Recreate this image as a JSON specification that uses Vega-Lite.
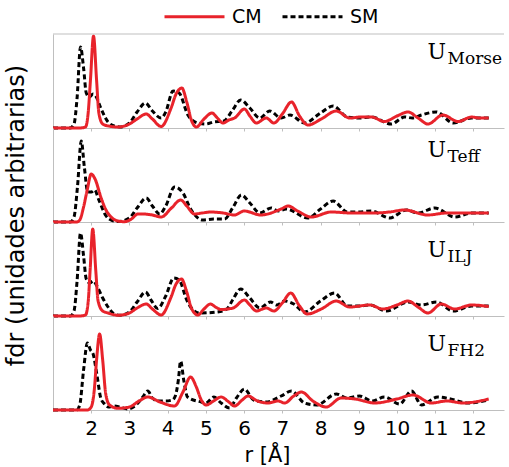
{
"$schema": "https://vega.github.io/schema/vega-lite/v6.json",
"padding": {"left": 3, "top": 5, "right": 0, "bottom": 0},
"spacing": 0,
"bounds": "flush",
"config": {
  "view": {"stroke": null},
  "font": "DejaVu Sans",
  "axis": {"grid": false, "domainColor": "#bfbfbf", "tickColor": "#bfbfbf", "labelFont": "DejaVu Sans", "labelFontSize": 20, "labelColor": "black", "titleFont": "DejaVu Sans", "titleFontSize": 24, "titleFontWeight": "normal", "titleColor": "black"},
  "legend": {"orient": "none", "legendX": 130, "legendY": -29, "direction": "horizontal", "symbolType": "M-3,0H3", "symbolSize": 400, "symbolStrokeWidth": 3, "labelFont": "DejaVu Sans", "labelFontSize": 19, "labelColor": "black", "columnPadding": 14, "labelOffset": 26, "padding": 0}
},
"datasets": {
  "labels": [
    {"panel": "Morse", "main": "U", "sub": "Morse"},
    {"panel": "Teff", "main": "U", "sub": "Teff"},
    {"panel": "ILJ", "main": "U", "sub": "ILJ"},
    {"panel": "FH2", "main": "U", "sub": "FH2"}
  ],
  "rdf": [
    {"panel":"Morse","series":"CM","r":1.0,"g":0},{"panel":"Morse","series":"CM","r":1.7,"g":0},{"panel":"Morse","series":"CM","r":1.85,"g":0.1},{"panel":"Morse","series":"CM","r":1.92,"g":1.5},{"panel":"Morse","series":"CM","r":1.98,"g":4.8},{"panel":"Morse","series":"CM","r":2.06,"g":9.2},{"panel":"Morse","series":"CM","r":2.14,"g":4.8},{"panel":"Morse","series":"CM","r":2.2,"g":1.5},{"panel":"Morse","series":"CM","r":2.3,"g":0.4},{"panel":"Morse","series":"CM","r":2.45,"g":0.2},{"panel":"Morse","series":"CM","r":2.7,"g":0.1},{"panel":"Morse","series":"CM","r":3.0,"g":0.4},{"panel":"Morse","series":"CM","r":3.2,"g":0.9},{"panel":"Morse","series":"CM","r":3.44,"g":1.4},{"panel":"Morse","series":"CM","r":3.6,"g":0.9},{"panel":"Morse","series":"CM","r":3.83,"g":0.15},{"panel":"Morse","series":"CM","r":4.09,"g":2.0},{"panel":"Morse","series":"CM","r":4.22,"g":3.4},{"panel":"Morse","series":"CM","r":4.37,"g":4.0},{"panel":"Morse","series":"CM","r":4.5,"g":2.6},{"panel":"Morse","series":"CM","r":4.62,"g":0.8},{"panel":"Morse","series":"CM","r":4.75,"g":0.1},{"panel":"Morse","series":"CM","r":4.95,"g":0.9},{"panel":"Morse","series":"CM","r":5.16,"g":1.5},{"panel":"Morse","series":"CM","r":5.3,"g":1.0},{"panel":"Morse","series":"CM","r":5.45,"g":0.5},{"panel":"Morse","series":"CM","r":5.6,"g":0.8},{"panel":"Morse","series":"CM","r":5.75,"g":1.0},{"panel":"Morse","series":"CM","r":6.01,"g":1.9},{"panel":"Morse","series":"CM","r":6.15,"g":1.2},{"panel":"Morse","series":"CM","r":6.32,"g":0.5},{"panel":"Morse","series":"CM","r":6.58,"g":1.0},{"panel":"Morse","series":"CM","r":6.78,"g":0.5},{"panel":"Morse","series":"CM","r":7.0,"g":1.4},{"panel":"Morse","series":"CM","r":7.24,"g":2.6},{"panel":"Morse","series":"CM","r":7.45,"g":1.2},{"panel":"Morse","series":"CM","r":7.67,"g":0.3},{"panel":"Morse","series":"CM","r":8.02,"g":0.9},{"panel":"Morse","series":"CM","r":8.41,"g":1.7},{"panel":"Morse","series":"CM","r":8.76,"g":1.0},{"panel":"Morse","series":"CM","r":9.05,"g":1.1},{"panel":"Morse","series":"CM","r":9.33,"g":1.1},{"panel":"Morse","series":"CM","r":9.67,"g":0.65},{"panel":"Morse","series":"CM","r":10.0,"g":1.2},{"panel":"Morse","series":"CM","r":10.29,"g":1.6},{"panel":"Morse","series":"CM","r":10.55,"g":1.0},{"panel":"Morse","series":"CM","r":10.81,"g":0.4},{"panel":"Morse","series":"CM","r":11.2,"g":1.3},{"panel":"Morse","series":"CM","r":11.6,"g":0.65},{"panel":"Morse","series":"CM","r":11.95,"g":1.1},{"panel":"Morse","series":"CM","r":12.15,"g":1.0},{"panel":"Morse","series":"CM","r":12.4,"g":1.0},
    {"panel":"Morse","series":"SM","r":1.0,"g":0},{"panel":"Morse","series":"SM","r":1.45,"g":0},{"panel":"Morse","series":"SM","r":1.55,"g":0.4},{"panel":"Morse","series":"SM","r":1.63,"g":3.0},{"panel":"Morse","series":"SM","r":1.72,"g":8.1},{"panel":"Morse","series":"SM","r":1.8,"g":6.0},{"panel":"Morse","series":"SM","r":1.87,"g":3.5},{"panel":"Morse","series":"SM","r":1.95,"g":3.1},{"panel":"Morse","series":"SM","r":2.05,"g":3.4},{"panel":"Morse","series":"SM","r":2.12,"g":3.2},{"panel":"Morse","series":"SM","r":2.25,"g":2.0},{"panel":"Morse","series":"SM","r":2.44,"g":0.6},{"panel":"Morse","series":"SM","r":2.6,"g":0.2},{"panel":"Morse","series":"SM","r":2.75,"g":0.1},{"panel":"Morse","series":"SM","r":3.0,"g":0.5},{"panel":"Morse","series":"SM","r":3.2,"g":1.6},{"panel":"Morse","series":"SM","r":3.42,"g":2.5},{"panel":"Morse","series":"SM","r":3.6,"g":1.7},{"panel":"Morse","series":"SM","r":3.83,"g":1.0},{"panel":"Morse","series":"SM","r":3.95,"g":1.6},{"panel":"Morse","series":"SM","r":4.14,"g":3.7},{"panel":"Morse","series":"SM","r":4.3,"g":3.5},{"panel":"Morse","series":"SM","r":4.53,"g":1.3},{"panel":"Morse","series":"SM","r":4.79,"g":0.5},{"panel":"Morse","series":"SM","r":5.0,"g":0.4},{"panel":"Morse","series":"SM","r":5.2,"g":0.6},{"panel":"Morse","series":"SM","r":5.47,"g":0.7},{"panel":"Morse","series":"SM","r":5.7,"g":1.8},{"panel":"Morse","series":"SM","r":5.91,"g":2.8},{"panel":"Morse","series":"SM","r":6.15,"g":2.0},{"panel":"Morse","series":"SM","r":6.41,"g":1.0},{"panel":"Morse","series":"SM","r":6.67,"g":1.7},{"panel":"Morse","series":"SM","r":6.97,"g":1.0},{"panel":"Morse","series":"SM","r":7.2,"g":1.3},{"panel":"Morse","series":"SM","r":7.58,"g":0.5},{"panel":"Morse","series":"SM","r":8.0,"g":1.5},{"panel":"Morse","series":"SM","r":8.33,"g":2.2},{"panel":"Morse","series":"SM","r":8.7,"g":1.1},{"panel":"Morse","series":"SM","r":9.0,"g":1.0},{"panel":"Morse","series":"SM","r":9.33,"g":1.1},{"panel":"Morse","series":"SM","r":9.85,"g":0.4},{"panel":"Morse","series":"SM","r":10.2,"g":1.1},{"panel":"Morse","series":"SM","r":10.4,"g":1.0},{"panel":"Morse","series":"SM","r":10.64,"g":1.3},{"panel":"Morse","series":"SM","r":11.03,"g":1.6},{"panel":"Morse","series":"SM","r":11.47,"g":0.5},{"panel":"Morse","series":"SM","r":11.95,"g":1.0},{"panel":"Morse","series":"SM","r":12.4,"g":1.0},
    {"panel":"Teff","series":"CM","r":1.0,"g":0},{"panel":"Teff","series":"CM","r":1.62,"g":0},{"panel":"Teff","series":"CM","r":1.7,"g":0.2},{"panel":"Teff","series":"CM","r":1.8,"g":1.5},{"panel":"Teff","series":"CM","r":1.9,"g":3.3},{"panel":"Teff","series":"CM","r":2.0,"g":4.8},{"panel":"Teff","series":"CM","r":2.1,"g":4.3},{"panel":"Teff","series":"CM","r":2.26,"g":2.4},{"panel":"Teff","series":"CM","r":2.4,"g":1.1},{"panel":"Teff","series":"CM","r":2.52,"g":0.5},{"panel":"Teff","series":"CM","r":2.7,"g":0.1},{"panel":"Teff","series":"CM","r":2.87,"g":0.03},{"panel":"Teff","series":"CM","r":3.05,"g":0.3},{"panel":"Teff","series":"CM","r":3.22,"g":0.8},{"panel":"Teff","series":"CM","r":3.35,"g":0.8},{"panel":"Teff","series":"CM","r":3.6,"g":0.7},{"panel":"Teff","series":"CM","r":3.83,"g":0.5},{"panel":"Teff","series":"CM","r":4.1,"g":1.4},{"panel":"Teff","series":"CM","r":4.34,"g":2.2},{"panel":"Teff","series":"CM","r":4.5,"g":1.6},{"panel":"Teff","series":"CM","r":4.7,"g":0.8},{"panel":"Teff","series":"CM","r":4.9,"g":0.9},{"panel":"Teff","series":"CM","r":5.13,"g":1.0},{"panel":"Teff","series":"CM","r":5.45,"g":0.9},{"panel":"Teff","series":"CM","r":5.75,"g":0.7},{"panel":"Teff","series":"CM","r":6.0,"g":1.1},{"panel":"Teff","series":"CM","r":6.44,"g":0.7},{"panel":"Teff","series":"CM","r":6.97,"g":1.3},{"panel":"Teff","series":"CM","r":7.15,"g":1.6},{"panel":"Teff","series":"CM","r":7.4,"g":1.1},{"panel":"Teff","series":"CM","r":7.76,"g":0.5},{"panel":"Teff","series":"CM","r":8.28,"g":1.0},{"panel":"Teff","series":"CM","r":8.8,"g":0.9},{"panel":"Teff","series":"CM","r":9.4,"g":0.9},{"panel":"Teff","series":"CM","r":9.8,"g":1.0},{"panel":"Teff","series":"CM","r":10.2,"g":1.2},{"panel":"Teff","series":"CM","r":10.8,"g":0.7},{"panel":"Teff","series":"CM","r":11.3,"g":0.9},{"panel":"Teff","series":"CM","r":12.4,"g":0.9},
    {"panel":"Teff","series":"SM","r":1.0,"g":0},{"panel":"Teff","series":"SM","r":1.45,"g":0},{"panel":"Teff","series":"SM","r":1.55,"g":0.5},{"panel":"Teff","series":"SM","r":1.64,"g":3.5},{"panel":"Teff","series":"SM","r":1.74,"g":8.1},{"panel":"Teff","series":"SM","r":1.82,"g":5.5},{"panel":"Teff","series":"SM","r":1.91,"g":3.0},{"panel":"Teff","series":"SM","r":2.0,"g":3.0},{"panel":"Teff","series":"SM","r":2.09,"g":3.2},{"panel":"Teff","series":"SM","r":2.2,"g":2.2},{"panel":"Teff","series":"SM","r":2.39,"g":0.6},{"panel":"Teff","series":"SM","r":2.55,"g":0.15},{"panel":"Teff","series":"SM","r":2.7,"g":0.05},{"panel":"Teff","series":"SM","r":3.0,"g":0.4},{"panel":"Teff","series":"SM","r":3.2,"g":1.4},{"panel":"Teff","series":"SM","r":3.44,"g":2.4},{"panel":"Teff","series":"SM","r":3.6,"g":1.6},{"panel":"Teff","series":"SM","r":3.79,"g":0.8},{"panel":"Teff","series":"SM","r":3.95,"g":1.6},{"panel":"Teff","series":"SM","r":4.18,"g":3.5},{"panel":"Teff","series":"SM","r":4.4,"g":2.9},{"panel":"Teff","series":"SM","r":4.6,"g":1.3},{"panel":"Teff","series":"SM","r":4.92,"g":0.2},{"panel":"Teff","series":"SM","r":5.2,"g":0.3},{"panel":"Teff","series":"SM","r":5.49,"g":0.3},{"panel":"Teff","series":"SM","r":5.7,"g":1.4},{"panel":"Teff","series":"SM","r":5.93,"g":2.7},{"panel":"Teff","series":"SM","r":6.15,"g":1.9},{"panel":"Teff","series":"SM","r":6.41,"g":0.9},{"panel":"Teff","series":"SM","r":6.71,"g":1.4},{"panel":"Teff","series":"SM","r":6.89,"g":1.1},{"panel":"Teff","series":"SM","r":7.1,"g":1.3},{"panel":"Teff","series":"SM","r":7.67,"g":0.4},{"panel":"Teff","series":"SM","r":8.0,"g":1.3},{"panel":"Teff","series":"SM","r":8.33,"g":2.1},{"panel":"Teff","series":"SM","r":8.7,"g":1.0},{"panel":"Teff","series":"SM","r":9.0,"g":1.0},{"panel":"Teff","series":"SM","r":9.33,"g":1.1},{"panel":"Teff","series":"SM","r":9.81,"g":0.4},{"panel":"Teff","series":"SM","r":10.25,"g":1.2},{"panel":"Teff","series":"SM","r":10.55,"g":0.9},{"panel":"Teff","series":"SM","r":10.99,"g":1.4},{"panel":"Teff","series":"SM","r":11.51,"g":0.5},{"panel":"Teff","series":"SM","r":11.95,"g":0.9},{"panel":"Teff","series":"SM","r":12.4,"g":0.9},
    {"panel":"ILJ","series":"CM","r":1.0,"g":0},{"panel":"ILJ","series":"CM","r":1.7,"g":0},{"panel":"ILJ","series":"CM","r":1.85,"g":0.1},{"panel":"ILJ","series":"CM","r":1.92,"g":1.4},{"panel":"ILJ","series":"CM","r":1.97,"g":4.5},{"panel":"ILJ","series":"CM","r":2.04,"g":8.7},{"panel":"ILJ","series":"CM","r":2.12,"g":4.5},{"panel":"ILJ","series":"CM","r":2.18,"g":1.5},{"panel":"ILJ","series":"CM","r":2.3,"g":0.5},{"panel":"ILJ","series":"CM","r":2.44,"g":0.3},{"panel":"ILJ","series":"CM","r":2.7,"g":0.07},{"panel":"ILJ","series":"CM","r":3.0,"g":0.3},{"panel":"ILJ","series":"CM","r":3.2,"g":0.8},{"panel":"ILJ","series":"CM","r":3.44,"g":1.2},{"panel":"ILJ","series":"CM","r":3.6,"g":0.7},{"panel":"ILJ","series":"CM","r":3.83,"g":0.1},{"panel":"ILJ","series":"CM","r":4.08,"g":1.8},{"panel":"ILJ","series":"CM","r":4.22,"g":3.2},{"panel":"ILJ","series":"CM","r":4.36,"g":3.7},{"panel":"ILJ","series":"CM","r":4.5,"g":2.4},{"panel":"ILJ","series":"CM","r":4.62,"g":0.8},{"panel":"ILJ","series":"CM","r":4.79,"g":0.1},{"panel":"ILJ","series":"CM","r":4.95,"g":0.7},{"panel":"ILJ","series":"CM","r":5.12,"g":1.2},{"panel":"ILJ","series":"CM","r":5.25,"g":0.9},{"panel":"ILJ","series":"CM","r":5.4,"g":0.65},{"panel":"ILJ","series":"CM","r":5.71,"g":0.8},{"panel":"ILJ","series":"CM","r":6.01,"g":1.6},{"panel":"ILJ","series":"CM","r":6.15,"g":1.1},{"panel":"ILJ","series":"CM","r":6.32,"g":0.5},{"panel":"ILJ","series":"CM","r":6.58,"g":0.8},{"panel":"ILJ","series":"CM","r":6.78,"g":0.5},{"panel":"ILJ","series":"CM","r":7.0,"g":1.3},{"panel":"ILJ","series":"CM","r":7.22,"g":2.3},{"panel":"ILJ","series":"CM","r":7.45,"g":1.0},{"panel":"ILJ","series":"CM","r":7.65,"g":0.2},{"panel":"ILJ","series":"CM","r":8.02,"g":0.7},{"panel":"ILJ","series":"CM","r":8.41,"g":1.5},{"panel":"ILJ","series":"CM","r":8.76,"g":0.9},{"panel":"ILJ","series":"CM","r":9.29,"g":1.1},{"panel":"ILJ","series":"CM","r":9.63,"g":0.7},{"panel":"ILJ","series":"CM","r":10.0,"g":1.1},{"panel":"ILJ","series":"CM","r":10.29,"g":1.5},{"panel":"ILJ","series":"CM","r":10.55,"g":0.9},{"panel":"ILJ","series":"CM","r":10.81,"g":0.3},{"panel":"ILJ","series":"CM","r":11.16,"g":1.2},{"panel":"ILJ","series":"CM","r":11.51,"g":0.7},{"panel":"ILJ","series":"CM","r":11.95,"g":1.1},{"panel":"ILJ","series":"CM","r":12.4,"g":0.95},
    {"panel":"ILJ","series":"SM","r":1.0,"g":0},{"panel":"ILJ","series":"SM","r":1.45,"g":0},{"panel":"ILJ","series":"SM","r":1.55,"g":0.5},{"panel":"ILJ","series":"SM","r":1.63,"g":3.5},{"panel":"ILJ","series":"SM","r":1.72,"g":8.3},{"panel":"ILJ","series":"SM","r":1.8,"g":6.0},{"panel":"ILJ","series":"SM","r":1.87,"g":3.7},{"panel":"ILJ","series":"SM","r":1.96,"g":3.3},{"panel":"ILJ","series":"SM","r":2.05,"g":3.5},{"panel":"ILJ","series":"SM","r":2.15,"g":3.0},{"panel":"ILJ","series":"SM","r":2.3,"g":1.8},{"panel":"ILJ","series":"SM","r":2.44,"g":0.9},{"panel":"ILJ","series":"SM","r":2.6,"g":0.2},{"panel":"ILJ","series":"SM","r":2.75,"g":0.07},{"panel":"ILJ","series":"SM","r":3.0,"g":0.4},{"panel":"ILJ","series":"SM","r":3.2,"g":1.4},{"panel":"ILJ","series":"SM","r":3.42,"g":2.4},{"panel":"ILJ","series":"SM","r":3.58,"g":1.5},{"panel":"ILJ","series":"SM","r":3.74,"g":0.75},{"panel":"ILJ","series":"SM","r":3.95,"g":2.0},{"panel":"ILJ","series":"SM","r":4.16,"g":3.8},{"panel":"ILJ","series":"SM","r":4.3,"g":3.6},{"panel":"ILJ","series":"SM","r":4.5,"g":1.6},{"panel":"ILJ","series":"SM","r":4.6,"g":0.9},{"panel":"ILJ","series":"SM","r":4.83,"g":0.3},{"panel":"ILJ","series":"SM","r":5.29,"g":0.4},{"panel":"ILJ","series":"SM","r":5.55,"g":0.7},{"panel":"ILJ","series":"SM","r":5.7,"g":1.6},{"panel":"ILJ","series":"SM","r":5.91,"g":2.7},{"panel":"ILJ","series":"SM","r":6.15,"g":1.8},{"panel":"ILJ","series":"SM","r":6.41,"g":0.8},{"panel":"ILJ","series":"SM","r":6.69,"g":1.4},{"panel":"ILJ","series":"SM","r":6.85,"g":1.1},{"panel":"ILJ","series":"SM","r":7.06,"g":1.5},{"panel":"ILJ","series":"SM","r":7.3,"g":1.2},{"panel":"ILJ","series":"SM","r":7.58,"g":0.4},{"panel":"ILJ","series":"SM","r":8.0,"g":1.5},{"panel":"ILJ","series":"SM","r":8.37,"g":2.3},{"panel":"ILJ","series":"SM","r":8.7,"g":1.0},{"panel":"ILJ","series":"SM","r":9.0,"g":1.0},{"panel":"ILJ","series":"SM","r":9.29,"g":1.1},{"panel":"ILJ","series":"SM","r":9.72,"g":0.5},{"panel":"ILJ","series":"SM","r":10.29,"g":1.4},{"panel":"ILJ","series":"SM","r":10.64,"g":1.1},{"panel":"ILJ","series":"SM","r":11.03,"g":1.4},{"panel":"ILJ","series":"SM","r":11.47,"g":0.5},{"panel":"ILJ","series":"SM","r":11.95,"g":1.0},{"panel":"ILJ","series":"SM","r":12.4,"g":1.0},
    {"panel":"FH2","series":"CM","r":1.0,"g":0},{"panel":"FH2","series":"CM","r":1.9,"g":0},{"panel":"FH2","series":"CM","r":2.0,"g":0.3},{"panel":"FH2","series":"CM","r":2.08,"g":2.0},{"panel":"FH2","series":"CM","r":2.14,"g":5.0},{"panel":"FH2","series":"CM","r":2.22,"g":7.6},{"panel":"FH2","series":"CM","r":2.3,"g":5.0},{"panel":"FH2","series":"CM","r":2.38,"g":1.6},{"panel":"FH2","series":"CM","r":2.48,"g":0.5},{"panel":"FH2","series":"CM","r":2.7,"g":0.17},{"panel":"FH2","series":"CM","r":3.0,"g":0.3},{"panel":"FH2","series":"CM","r":3.25,"g":0.9},{"panel":"FH2","series":"CM","r":3.48,"g":1.3},{"panel":"FH2","series":"CM","r":3.8,"g":0.8},{"panel":"FH2","series":"CM","r":4.18,"g":0.4},{"panel":"FH2","series":"CM","r":4.4,"g":1.8},{"panel":"FH2","series":"CM","r":4.6,"g":3.3},{"panel":"FH2","series":"CM","r":4.75,"g":2.3},{"panel":"FH2","series":"CM","r":4.88,"g":1.0},{"panel":"FH2","series":"CM","r":5.01,"g":0.5},{"panel":"FH2","series":"CM","r":5.2,"g":0.9},{"panel":"FH2","series":"CM","r":5.4,"g":1.3},{"panel":"FH2","series":"CM","r":5.6,"g":0.8},{"panel":"FH2","series":"CM","r":5.75,"g":0.4},{"panel":"FH2","series":"CM","r":5.95,"g":1.0},{"panel":"FH2","series":"CM","r":6.1,"g":1.4},{"panel":"FH2","series":"CM","r":6.35,"g":0.9},{"panel":"FH2","series":"CM","r":6.62,"g":0.7},{"panel":"FH2","series":"CM","r":6.89,"g":0.9},{"panel":"FH2","series":"CM","r":7.06,"g":0.7},{"panel":"FH2","series":"CM","r":7.3,"g":1.4},{"panel":"FH2","series":"CM","r":7.5,"g":1.8},{"panel":"FH2","series":"CM","r":7.8,"g":0.9},{"panel":"FH2","series":"CM","r":8.15,"g":0.3},{"panel":"FH2","series":"CM","r":8.54,"g":1.2},{"panel":"FH2","series":"CM","r":8.9,"g":1.1},{"panel":"FH2","series":"CM","r":9.42,"g":0.7},{"panel":"FH2","series":"CM","r":10.0,"g":1.1},{"panel":"FH2","series":"CM","r":10.42,"g":1.5},{"panel":"FH2","series":"CM","r":10.9,"g":0.7},{"panel":"FH2","series":"CM","r":11.3,"g":0.9},{"panel":"FH2","series":"CM","r":11.73,"g":0.7},{"panel":"FH2","series":"CM","r":12.4,"g":1.1},
    {"panel":"FH2","series":"SM","r":1.0,"g":0},{"panel":"FH2","series":"SM","r":1.62,"g":0},{"panel":"FH2","series":"SM","r":1.7,"g":0.5},{"panel":"FH2","series":"SM","r":1.8,"g":4.0},{"panel":"FH2","series":"SM","r":1.9,"g":6.7},{"panel":"FH2","series":"SM","r":1.98,"g":6.0},{"panel":"FH2","series":"SM","r":2.05,"g":5.6},{"panel":"FH2","series":"SM","r":2.15,"g":3.5},{"panel":"FH2","series":"SM","r":2.25,"g":1.2},{"panel":"FH2","series":"SM","r":2.35,"g":0.6},{"panel":"FH2","series":"SM","r":2.45,"g":0.3},{"panel":"FH2","series":"SM","r":2.6,"g":0.4},{"panel":"FH2","series":"SM","r":2.75,"g":0.3},{"panel":"FH2","series":"SM","r":2.95,"g":0.1},{"panel":"FH2","series":"SM","r":3.2,"g":0.6},{"panel":"FH2","series":"SM","r":3.35,"g":1.3},{"panel":"FH2","series":"SM","r":3.48,"g":1.9},{"panel":"FH2","series":"SM","r":3.6,"g":1.2},{"panel":"FH2","series":"SM","r":3.75,"g":0.9},{"panel":"FH2","series":"SM","r":3.95,"g":0.9},{"panel":"FH2","series":"SM","r":4.12,"g":1.0},{"panel":"FH2","series":"SM","r":4.2,"g":1.4},{"panel":"FH2","series":"SM","r":4.28,"g":3.0},{"panel":"FH2","series":"SM","r":4.34,"g":4.9},{"panel":"FH2","series":"SM","r":4.42,"g":3.0},{"panel":"FH2","series":"SM","r":4.52,"g":1.3},{"panel":"FH2","series":"SM","r":4.88,"g":0.8},{"panel":"FH2","series":"SM","r":5.0,"g":0.7},{"panel":"FH2","series":"SM","r":5.21,"g":1.3},{"panel":"FH2","series":"SM","r":5.4,"g":0.7},{"panel":"FH2","series":"SM","r":5.62,"g":0.2},{"panel":"FH2","series":"SM","r":5.8,"g":1.2},{"panel":"FH2","series":"SM","r":6.01,"g":2.1},{"panel":"FH2","series":"SM","r":6.25,"g":1.0},{"panel":"FH2","series":"SM","r":6.58,"g":0.8},{"panel":"FH2","series":"SM","r":6.97,"g":1.4},{"panel":"FH2","series":"SM","r":7.24,"g":1.9},{"panel":"FH2","series":"SM","r":7.58,"g":0.7},{"panel":"FH2","series":"SM","r":7.9,"g":0.5},{"panel":"FH2","series":"SM","r":8.41,"g":1.6},{"panel":"FH2","series":"SM","r":8.7,"g":1.2},{"panel":"FH2","series":"SM","r":9.02,"g":1.4},{"panel":"FH2","series":"SM","r":9.35,"g":0.9},{"panel":"FH2","series":"SM","r":9.67,"g":1.3},{"panel":"FH2","series":"SM","r":10.07,"g":0.6},{"panel":"FH2","series":"SM","r":10.38,"g":1.9},{"panel":"FH2","series":"SM","r":10.64,"g":0.5},{"panel":"FH2","series":"SM","r":11.07,"g":1.3},{"panel":"FH2","series":"SM","r":11.4,"g":1.1},{"panel":"FH2","series":"SM","r":11.86,"g":0.7},{"panel":"FH2","series":"SM","r":12.4,"g":1.0}
  ]
},
"vconcat": [
  {"width": 451, "height": 94,
   "layer": [
    {"data": {"name": "rdf"}, "transform": [{"filter": "datum.panel === 'Morse' && datum.series === 'SM'"}],
     "mark": {"type": "line", "interpolate": "monotone", "strokeWidth": 3},
     "encoding": {
       "x": {"field": "r", "type": "quantitative", "scale": {"domain": [1, 12.8], "nice": false, "zero": false}, "axis": {"values": [2,3,4,5,6,7,8,9,10,11,12], "labels": false, "title": null, "tickSize": 3}},
       "y": {"field": "g", "type": "quantitative", "scale": {"domain": [0, 9.4], "nice": false}, "axis": {"ticks": false, "labels": false, "title": null}},
       "color": {"field": "series", "type": "nominal", "scale": {"domain": ["CM", "SM"], "range": ["#e8232b", "#000000"]}, "legend": {"title": null}},
       "strokeDash": {"field": "series", "type": "nominal", "scale": {"domain": ["CM", "SM"], "range": [[1, 0], [5, 3]]}, "legend": {"title": null}}
     }},
    {"data": {"name": "rdf"}, "transform": [{"filter": "datum.panel === 'Morse' && datum.series === 'CM'"}],
     "mark": {"type": "line", "interpolate": "monotone", "strokeWidth": 3},
     "encoding": {
       "x": {"field": "r", "type": "quantitative"},
       "y": {"field": "g", "type": "quantitative"},
       "color": {"field": "series", "type": "nominal", "legend": {"title": null}},
       "strokeDash": {"field": "series", "type": "nominal", "legend": {"title": null}}
     }},
    {"data": {"name": "labels"}, "transform": [{"filter": "datum.panel === 'Morse'"}],
     "mark": {"type": "rule", "color": "#bfbfbf", "strokeWidth": 1},
     "encoding": {"y": {"datum": 9.4, "type": "quantitative"}}},
    {"data": {"name": "labels"}, "transform": [{"filter": "datum.panel === 'Morse'"}],
     "mark": {"type": "text", "font": "DejaVu Serif", "fontSize": 22, "align": "left", "baseline": "alphabetic", "color": "black"},
     "encoding": {"x": {"datum": 10.8, "type": "quantitative"}, "y": {"datum": 6.9, "type": "quantitative"}, "text": {"field": "main"}}},
    {"data": {"name": "labels"}, "transform": [{"filter": "datum.panel === 'Morse'"}],
     "mark": {"type": "text", "font": "DejaVu Serif", "fontSize": 17, "align": "left", "baseline": "alphabetic", "color": "black", "dx": 20, "dy": 5},
     "encoding": {"x": {"datum": 10.8, "type": "quantitative"}, "y": {"datum": 6.9, "type": "quantitative"}, "text": {"field": "sub"}}}
   ]},
  {"width": 451, "height": 94,
   "layer": [
    {"data": {"name": "rdf"}, "transform": [{"filter": "datum.panel === 'Teff' && datum.series === 'SM'"}],
     "mark": {"type": "line", "interpolate": "monotone", "strokeWidth": 3},
     "encoding": {
       "x": {"field": "r", "type": "quantitative", "scale": {"domain": [1, 12.8], "nice": false, "zero": false}, "axis": {"values": [2,3,4,5,6,7,8,9,10,11,12], "labels": false, "title": null, "tickSize": 3}},
       "y": {"field": "g", "type": "quantitative", "scale": {"domain": [0, 9.4], "nice": false}, "axis": {"ticks": false, "labels": false, "title": "fdr (unidades arbitrarias)", "titleY": 87, "titlePadding": 25}},
       "color": {"field": "series", "type": "nominal", "legend": {"title": null}},
       "strokeDash": {"field": "series", "type": "nominal", "legend": {"title": null}}
     }},
    {"data": {"name": "rdf"}, "transform": [{"filter": "datum.panel === 'Teff' && datum.series === 'CM'"}],
     "mark": {"type": "line", "interpolate": "monotone", "strokeWidth": 3},
     "encoding": {
       "x": {"field": "r", "type": "quantitative"},
       "y": {"field": "g", "type": "quantitative"},
       "color": {"field": "series", "type": "nominal", "legend": {"title": null}},
       "strokeDash": {"field": "series", "type": "nominal", "legend": {"title": null}}
     }},
    {"data": {"name": "labels"}, "transform": [{"filter": "datum.panel === 'Teff'"}],
     "mark": {"type": "text", "font": "DejaVu Serif", "fontSize": 22, "align": "left", "baseline": "alphabetic", "color": "black"},
     "encoding": {"x": {"datum": 10.8, "type": "quantitative"}, "y": {"datum": 6.5, "type": "quantitative"}, "text": {"field": "main"}}},
    {"data": {"name": "labels"}, "transform": [{"filter": "datum.panel === 'Teff'"}],
     "mark": {"type": "text", "font": "DejaVu Serif", "fontSize": 17, "align": "left", "baseline": "alphabetic", "color": "black", "dx": 20, "dy": 5},
     "encoding": {"x": {"datum": 10.8, "type": "quantitative"}, "y": {"datum": 6.5, "type": "quantitative"}, "text": {"field": "sub"}}}
   ]},
  {"width": 451, "height": 94,
   "layer": [
    {"data": {"name": "rdf"}, "transform": [{"filter": "datum.panel === 'ILJ' && datum.series === 'SM'"}],
     "mark": {"type": "line", "interpolate": "monotone", "strokeWidth": 3},
     "encoding": {
       "x": {"field": "r", "type": "quantitative", "scale": {"domain": [1, 12.8], "nice": false, "zero": false}, "axis": {"values": [2,3,4,5,6,7,8,9,10,11,12], "labels": false, "title": null, "tickSize": 3}},
       "y": {"field": "g", "type": "quantitative", "scale": {"domain": [0, 9.4], "nice": false}, "axis": {"ticks": false, "labels": false, "title": null}},
       "color": {"field": "series", "type": "nominal", "legend": {"title": null}},
       "strokeDash": {"field": "series", "type": "nominal", "legend": {"title": null}}
     }},
    {"data": {"name": "rdf"}, "transform": [{"filter": "datum.panel === 'ILJ' && datum.series === 'CM'"}],
     "mark": {"type": "line", "interpolate": "monotone", "strokeWidth": 3},
     "encoding": {
       "x": {"field": "r", "type": "quantitative"},
       "y": {"field": "g", "type": "quantitative"},
       "color": {"field": "series", "type": "nominal", "legend": {"title": null}},
       "strokeDash": {"field": "series", "type": "nominal", "legend": {"title": null}}
     }},
    {"data": {"name": "labels"}, "transform": [{"filter": "datum.panel === 'ILJ'"}],
     "mark": {"type": "text", "font": "DejaVu Serif", "fontSize": 22, "align": "left", "baseline": "alphabetic", "color": "black"},
     "encoding": {"x": {"datum": 10.8, "type": "quantitative"}, "y": {"datum": 5.9, "type": "quantitative"}, "text": {"field": "main"}}},
    {"data": {"name": "labels"}, "transform": [{"filter": "datum.panel === 'ILJ'"}],
     "mark": {"type": "text", "font": "DejaVu Serif", "fontSize": 17, "align": "left", "baseline": "alphabetic", "color": "black", "dx": 20, "dy": 5},
     "encoding": {"x": {"datum": 10.8, "type": "quantitative"}, "y": {"datum": 5.9, "type": "quantitative"}, "text": {"field": "sub"}}}
   ]},
  {"width": 451, "height": 94,
   "layer": [
    {"data": {"name": "rdf"}, "transform": [{"filter": "datum.panel === 'FH2' && datum.series === 'SM'"}],
     "mark": {"type": "line", "interpolate": "monotone", "strokeWidth": 3},
     "encoding": {
       "x": {"field": "r", "type": "quantitative", "scale": {"domain": [1, 12.8], "nice": false, "zero": false}, "axis": {"values": [2,3,4,5,6,7,8,9,10,11,12], "title": "r [Å]", "titleFontSize": 21, "tickSize": 3, "labelPadding": 5, "titlePadding": 6, "titleX": 214}},
       "y": {"field": "g", "type": "quantitative", "scale": {"domain": [0, 9.4], "nice": false}, "axis": {"ticks": false, "labels": false, "title": null}},
       "color": {"field": "series", "type": "nominal", "legend": {"title": null}},
       "strokeDash": {"field": "series", "type": "nominal", "legend": {"title": null}}
     }},
    {"data": {"name": "rdf"}, "transform": [{"filter": "datum.panel === 'FH2' && datum.series === 'CM'"}],
     "mark": {"type": "line", "interpolate": "monotone", "strokeWidth": 3},
     "encoding": {
       "x": {"field": "r", "type": "quantitative"},
       "y": {"field": "g", "type": "quantitative"},
       "color": {"field": "series", "type": "nominal", "legend": {"title": null}},
       "strokeDash": {"field": "series", "type": "nominal", "legend": {"title": null}}
     }},
    {"data": {"name": "labels"}, "transform": [{"filter": "datum.panel === 'FH2'"}],
     "mark": {"type": "text", "font": "DejaVu Serif", "fontSize": 22, "align": "left", "baseline": "alphabetic", "color": "black"},
     "encoding": {"x": {"datum": 10.8, "type": "quantitative"}, "y": {"datum": 5.9, "type": "quantitative"}, "text": {"field": "main"}}},
    {"data": {"name": "labels"}, "transform": [{"filter": "datum.panel === 'FH2'"}],
     "mark": {"type": "text", "font": "DejaVu Serif", "fontSize": 17, "align": "left", "baseline": "alphabetic", "color": "black", "dx": 20, "dy": 5},
     "encoding": {"x": {"datum": 10.8, "type": "quantitative"}, "y": {"datum": 5.9, "type": "quantitative"}, "text": {"field": "sub"}}}
   ]}
]
}
